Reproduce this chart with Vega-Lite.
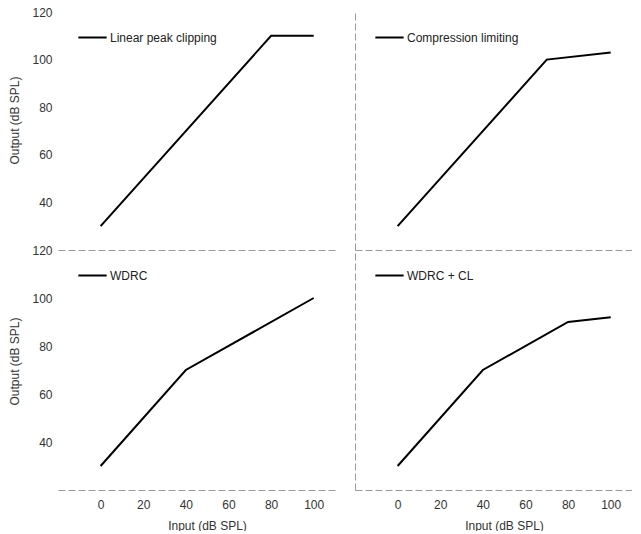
{
  "$schema": "https://vega.github.io/schema/vega-lite/v6.json",
  "background": "white",
  "padding": {"left": 8, "top": 6, "right": 0, "bottom": 0},
  "datasets": {
    "curves": [
      {"curve": "Linear peak clipping", "input": 0, "output": 30},
      {"curve": "Linear peak clipping", "input": 80, "output": 110},
      {"curve": "Linear peak clipping", "input": 100, "output": 110},
      {"curve": "Compression limiting", "input": 0, "output": 30},
      {"curve": "Compression limiting", "input": 70, "output": 100},
      {"curve": "Compression limiting", "input": 100, "output": 103},
      {"curve": "WDRC", "input": 0, "output": 30},
      {"curve": "WDRC", "input": 40, "output": 70},
      {"curve": "WDRC", "input": 100, "output": 100},
      {"curve": "WDRC + CL", "input": 0, "output": 30},
      {"curve": "WDRC + CL", "input": 40, "output": 70},
      {"curve": "WDRC + CL", "input": 80, "output": 90},
      {"curve": "WDRC + CL", "input": 100, "output": 92}
    ]
  },
  "config": {
    "font": "Liberation Sans",
    "view": {"stroke": null},
    "axis": {
      "labelFont": "Liberation Sans",
      "labelFontSize": 12,
      "labelColor": "#333",
      "titleFont": "Liberation Sans",
      "titleFontSize": 12,
      "titleFontWeight": "normal",
      "titleColor": "#333",
      "grid": false,
      "ticks": false,
      "domainColor": "#9a9a9a",
      "domainDash": [7, 3],
      "labelPadding": 6
    },
    "legend": {
      "orient": "none",
      "legendX": 19,
      "legendY": 10,
      "padding": 0,
      "symbolType": "stroke",
      "symbolSize": 800,
      "symbolStrokeWidth": 2,
      "labelFont": "Liberation Sans",
      "labelFontSize": 12,
      "labelColor": "#222",
      "labelOffset": 2,
      "title": null
    }
  },
  "spacing": -6,
  "resolve": {"scale": {"color": "independent"}, "legend": {"color": "independent"}},
  "vconcat": [
    {
      "spacing": 20,
      "resolve": {"scale": {"color": "independent"}, "legend": {"color": "independent"}},
      "hconcat": [
        {
          "width": 277, "height": 238,
          "data": {"name": "curves"},
          "transform": [{"filter": "datum.curve == 'Linear peak clipping'"}],
          "mark": {"type": "line", "strokeWidth": 2},
          "encoding": {
            "x": {"field": "input", "type": "quantitative", "scale": {"domain": [-20, 110], "nice": false}, "axis": {"labels": false, "title": null, "values": [0, 20, 40, 60, 80, 100], "labelPadding": 0}},
            "y": {"field": "output", "type": "quantitative", "scale": {"domain": [20, 120], "nice": false, "zero": false}, "axis": {"values": [40, 60, 80, 100, 120], "domain": false, "title": "Output (dB SPL)", "titleY": 108, "titlePadding": 10}},
            "color": {"field": "curve", "type": "nominal", "scale": {"range": ["black"]}}
          }
        },
        {
          "width": 277, "height": 238,
          "data": {"name": "curves"},
          "transform": [{"filter": "datum.curve == 'Compression limiting'"}],
          "mark": {"type": "line", "strokeWidth": 2},
          "encoding": {
            "x": {"field": "input", "type": "quantitative", "scale": {"domain": [-20, 110], "nice": false}, "axis": {"labels": false, "title": null, "labelPadding": 0}},
            "y": {"field": "output", "type": "quantitative", "scale": {"domain": [20, 120], "nice": false, "zero": false}, "axis": {"labels": false, "title": null, "values": [40, 60, 80, 100, 120]}},
            "color": {"field": "curve", "type": "nominal", "scale": {"range": ["black"]}}
          }
        }
      ]
    },
    {
      "spacing": 20,
      "resolve": {"scale": {"color": "independent"}, "legend": {"color": "independent"}},
      "hconcat": [
        {
          "width": 277, "height": 240,
          "data": {"name": "curves"},
          "transform": [{"filter": "datum.curve == 'WDRC'"}],
          "mark": {"type": "line", "strokeWidth": 2},
          "encoding": {
            "x": {"field": "input", "type": "quantitative", "scale": {"domain": [-20, 110], "nice": false}, "axis": {"values": [0, 20, 40, 60, 80, 100], "title": "Input (dB SPL)", "titleX": 149, "labelPadding": 9, "titlePadding": 10}},
            "y": {"field": "output", "type": "quantitative", "scale": {"domain": [20, 120], "nice": false, "zero": false}, "axis": {"values": [40, 60, 80, 100, 120], "domain": false, "title": "Output (dB SPL)", "titleY": 111, "titlePadding": 10}},
            "color": {"field": "curve", "type": "nominal", "scale": {"range": ["black"]}}
          }
        },
        {
          "width": 277, "height": 240,
          "data": {"name": "curves"},
          "transform": [{"filter": "datum.curve == 'WDRC + CL'"}],
          "mark": {"type": "line", "strokeWidth": 2},
          "encoding": {
            "x": {"field": "input", "type": "quantitative", "scale": {"domain": [-20, 110], "nice": false}, "axis": {"values": [0, 20, 40, 60, 80, 100], "title": "Input (dB SPL)", "titleX": 149, "labelPadding": 9, "titlePadding": 10}},
            "y": {"field": "output", "type": "quantitative", "scale": {"domain": [20, 120], "nice": false, "zero": false}, "axis": {"labels": false, "title": null, "values": [40, 60, 80, 100, 120]}},
            "color": {"field": "curve", "type": "nominal", "scale": {"range": ["black"]}}
          }
        }
      ]
    }
  ]
}
